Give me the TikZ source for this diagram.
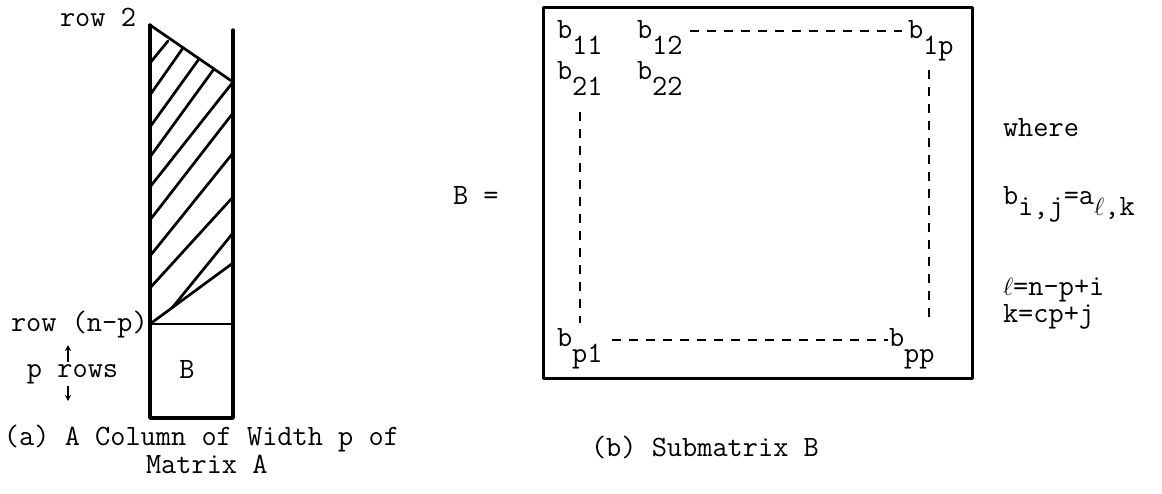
\documentclass[tikz,border=0pt]{standalone}
\usetikzlibrary{arrows.meta}
\newcommand{\sbx}[1]{\raisebox{-16pt}{#1}}
\newcommand{\sbs}[1]{\raisebox{-11pt}{#1}}
\tikzset{
  txt/.style={inner sep=0pt, outer sep=0pt, anchor=base west, font=\ttfamily\fontsize{29.5pt}{27pt}\selectfont},
  heavy/.style={line width=3.4pt, line join=round, line cap=round},
  hatch/.style={line width=2.7pt, line cap=round},
  dashline/.style={line width=2pt, dash pattern=on 9pt off 8pt},
  boxline/.style={line width=3pt, line join=round},
  smallarrow/.style={line width=1.6pt, -{Stealth[length=6pt,width=6pt]}}
}
\begin{document}
\begin{tikzpicture}[x=1pt,y=-1pt]
\useasboundingbox (0,0) rectangle (1162,494);
% ---------- (a) column ----------
\draw[heavy] (150,25) -- (150,418) -- (233,418) -- (233,30);
\draw[hatch] (150,25) -- (233,82);
\draw[hatch] (150,63) -- (168,41);
\draw[hatch] (150,95) -- (183,48);
\draw[hatch] (150,127) -- (199,59);
\draw[hatch] (150,157) -- (214,69);
\draw[hatch] (150,187) -- (233,82);
\draw[hatch] (150,220) -- (233,113);
\draw[hatch] (150,256) -- (233,153);
\draw[hatch] (150,288) -- (233,197);
\draw[hatch] (172,308) -- (233,233);
\draw[hatch] (150,324) -- (233,263);
\draw[hatch] (150,324) -- (233,324);
\node[txt] (row2) at (60,27) {row 2};
\node[txt] (rownp) at (11,331) {row (n-p)};
\node[txt] (prows) at (27,377) {p rows};
\node[txt, anchor=base] (Bin) at (187,378) {B};
\coordinate (ua1) at (68,362);
\coordinate (ua2) at (68,345);
\coordinate (da1) at (68,386);
\coordinate (da2) at (68,401);
\draw[smallarrow] (ua1) -- (ua2);
\draw[smallarrow] (da1) -- (da2);
\node[txt] (capa1) at (4,445) {(a) A Column of Width p of};
\node[txt] (capa2) at (146,473) {Matrix A};
% ---------- (b) submatrix ----------
\node[txt] (Beq) at (453,205) {B =};
\draw[boxline] (543,8) rectangle (972,378);
\node[txt] (b11) at (557,39) {b\sbx{11}};
\node[txt] (b12) at (637,39) {b\sbx{12}};
\node[txt] (b1p) at (908,39) {b\sbx{1p}};
\node[txt] (b21) at (557,80) {b\sbx{21}};
\node[txt] (b22) at (637,80) {b\sbx{22}};
\node[txt] (bp1) at (557,346) {b\sbx{p1}};
\node[txt] (bpp) at (889,346) {b\sbx{pp}};
\coordinate (t1) at (690,31);
\coordinate (t2) at (902,31);
\coordinate (d1) at (612,340);
\coordinate (d2) at (888,340);
\coordinate (l1) at (580,112);
\coordinate (l2) at (580,323);
\coordinate (r1) at (929,70);
\coordinate (r2) at (929,318);
\draw[dashline] (t1) -- (t2);
\draw[dashline] (d1) -- (d2);
\draw[dashline] (l1) -- (l2);
\draw[dashline] (r1) -- (r2);
\node[txt] (where) at (1003,137) {where};
\node[txt] (bij) at (1003,205) {b\sbs{i,j}=a\sbs{$\ell$,k}};
\node[txt, align=left, anchor=base west] (ellk) at (1003,323) {$\ell$=n-p+i\\k=cp+j};
\node[txt] (capb) at (591,456) {(b) Submatrix B};
\end{tikzpicture}
\end{document}
